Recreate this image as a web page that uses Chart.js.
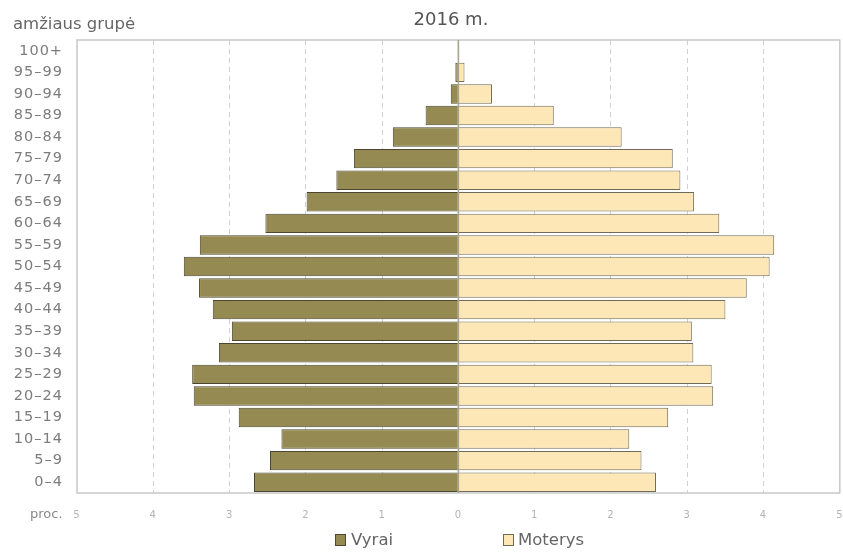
<!DOCTYPE html>
<html>
<head>
<meta charset="utf-8">
<script src="https://cdn.jsdelivr.net/npm/chart.js@4/dist/chart.umd.min.js"></script>
<style>
  html,body{margin:0;padding:0;background:#fff;}
  #wrap{position:relative;width:843px;height:552px;overflow:hidden;}
  .t{position:absolute;font-family:"DejaVu Sans",sans-serif;color:#666;white-space:nowrap;}
  .box{position:absolute;width:9px;height:10px;border:1px solid #555;}
</style>
</head>
<body>
<div id="wrap">
  <canvas id="c" width="843" height="552"></canvas>
  <div class="t" style="left:13px;top:14px;font-size:16.5px;">amžiaus grupė</div>
  <div class="t" style="left:0;width:902px;text-align:center;top:8px;font-size:18px;color:#555;">2016 m.</div>
  <div class="t" style="left:30px;top:506px;font-size:13px;color:#888;">proc.</div>
  <div class="box" style="left:335px;top:534px;background:#958a52;border-color:#4e4a30;"></div>
  <div class="t" style="left:351px;top:530px;font-size:16.5px;">Vyrai</div>
  <div class="box" style="left:503px;top:534px;background:#fee7b6;border-color:#6e6a55;"></div>
  <div class="t" style="left:518px;top:530px;font-size:16.5px;">Moterys</div>
</div>
<script>
const categories = ["0–4","5–9","10–14","15–19","20–24","25–29","30–34","35–39","40–44","45–49","50–54","55–59","60–64","65–69","70–74","75–79","80–84","85–89","90–94","95–99","100+"];
const vyrai   = [2.68,2.47,2.32,2.88,3.47,3.49,3.14,2.97,3.22,3.40,3.60,3.39,2.53,1.99,1.60,1.37,0.86,0.43,0.10,0.04,0.01];
const moterys = [2.59,2.40,2.24,2.75,3.34,3.32,3.08,3.06,3.50,3.78,4.08,4.14,3.42,3.09,2.91,2.81,2.14,1.25,0.44,0.08,0.01];
const xTicks  = [-5,-4,-3,-2,-1,0,1,2,3,4,5];

const framePlugin = {
  id: 'frame',
  beforeDraw(chart) {
    chart.ctx.letterSpacing = '1px';
  },
  beforeDatasetsDraw(chart) {
    const {ctx, chartArea: a} = chart;
    ctx.letterSpacing = '0px';
    ctx.save();
    ctx.strokeStyle = '#c8c8c8';
    ctx.lineWidth = 1.5;
    ctx.strokeRect(a.left, a.top, a.right - a.left, a.bottom - a.top);
    ctx.restore();
  },
  afterDatasetsDraw(chart) {
    const {ctx, chartArea: a} = chart;
    const x0 = chart.scales.x.getPixelForValue(0);
    ctx.save();
    ctx.strokeStyle = '#a9a48e';
    ctx.lineWidth = 1.5;
    ctx.beginPath();
    ctx.moveTo(x0, a.top);
    ctx.lineTo(x0, a.bottom);
    ctx.stroke();
    ctx.restore();
  }
};

new Chart(document.getElementById('c'), {
  type: 'bar',
  data: {
    labels: categories,
    datasets: [
      {label: 'Vyrai', data: vyrai.map(v => -v), backgroundColor: '#958a52', borderColor: '#4a4630', borderWidth: 1, barPercentage: 0.9, categoryPercentage: 1},
      {label: 'Moterys', data: moterys, backgroundColor: '#fee7b6', borderColor: '#6f6b58', borderWidth: 1, barPercentage: 0.9, categoryPercentage: 1}
    ]
  },
  options: {
    indexAxis: 'y',
    responsive: false,
    animation: false,
    layout: {padding: {left: 0, right: 0, top: 40, bottom: 29}},
    plugins: {legend: {display: false}, tooltip: {enabled: false}, title: {display: false}},
    scales: {
      x: {
        stacked: true,
        min: -5, max: 5,
        afterBuildTicks(scale) { scale.ticks = xTicks.map(v => ({value: v})); },
        afterFit(scale) { scale.height = 30; },
        ticks: {
          callback: v => String(Math.abs(v)),
          color: '#b4b4b4',
          font: {family: 'DejaVu Sans', size: 10},
          padding: 0,
          maxRotation: 0
        },
        grid: {
          drawTicks: true,
          tickLength: 16,
          tickColor: 'rgba(0,0,0,0)',
          color: c => (c.tick && (c.tick.value === 0 || Math.abs(c.tick.value) === 5)) ? 'rgba(0,0,0,0)' : '#d2d2d2',
          lineWidth: 1
        },
        border: {display: false, dash: [5, 4]}
      },
      y: {
        stacked: true,
        reverse: true,
        afterFit(scale) { scale.width = 77; },
        ticks: {
          color: '#7c7c7c',
          font: {family: 'DejaVu Sans', size: 14.5},
          padding: 14,
          autoSkip: false
        },
        grid: {display: false, drawTicks: false},
        border: {display: false}
      }
    }
  },
  plugins: [framePlugin]
});
</script>
</body>
</html>
